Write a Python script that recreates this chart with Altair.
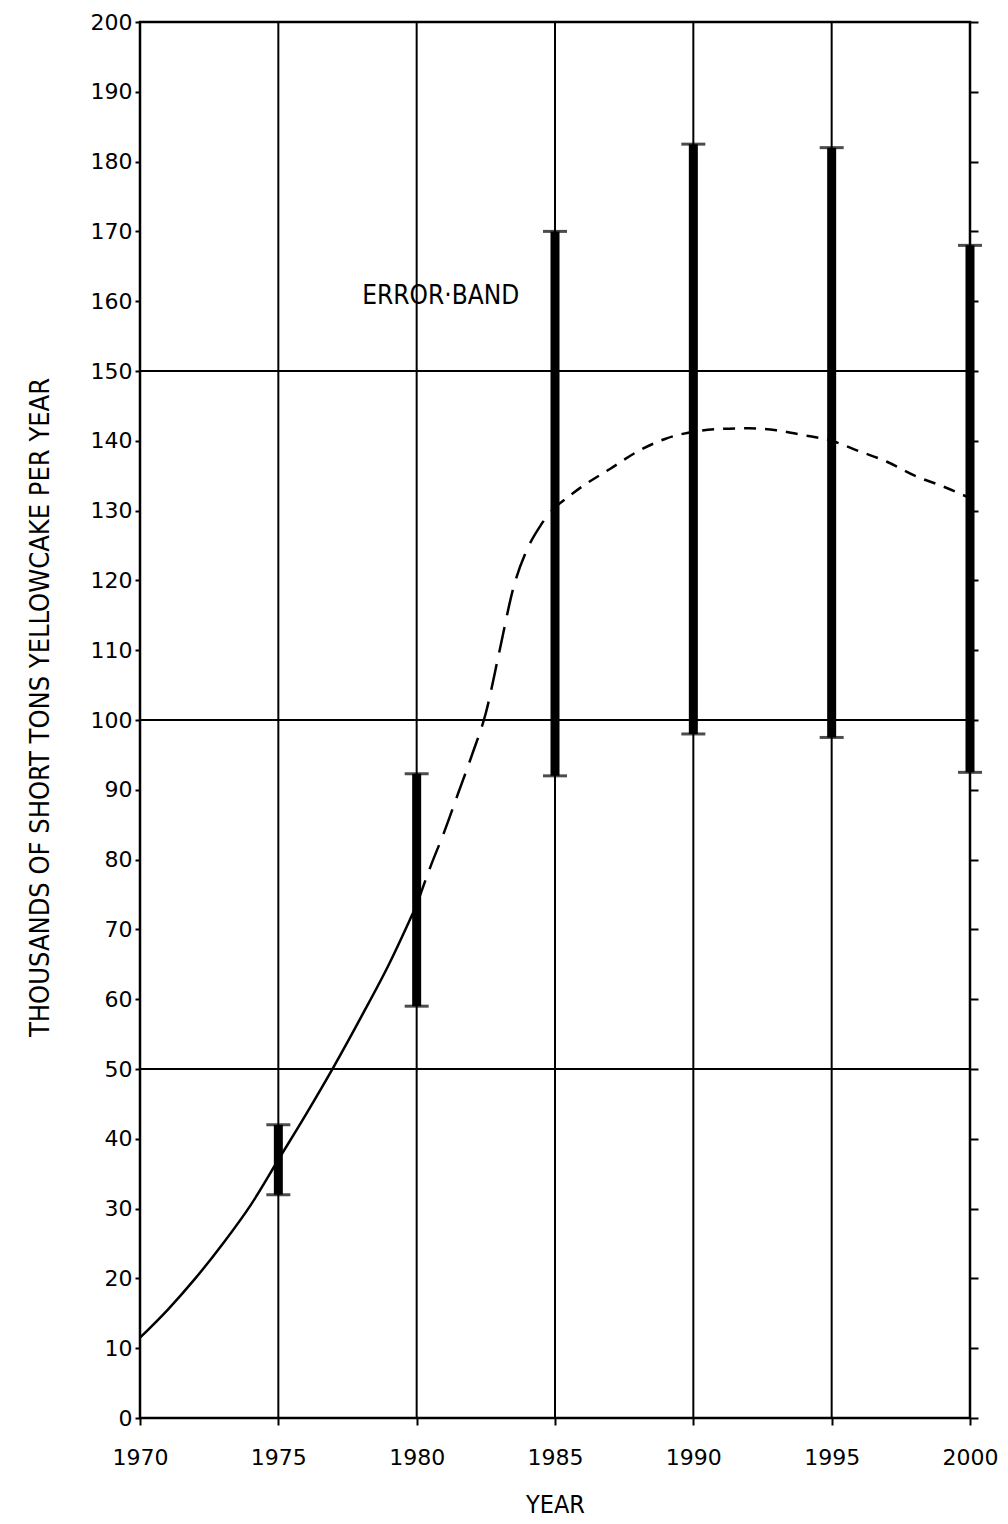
import altair as alt
import pandas as pd

# ---- data ----
err_years = [1975, 1980, 1985, 1990, 1995, 2000]
err_low = [32, 59, 92, 98, 97.5, 92.5]
err_high = [42, 92.3, 170, 182.5, 182, 168]

solid_years = [1970, 1971, 1972, 1973, 1974, 1975, 1976, 1977, 1978, 1979, 1980]
solid_vals = [11.5, 15.5, 20, 25, 30.5, 37, 43.5, 50.3, 57.5, 65, 73.5]

longdash_years = [1980, 1980.5, 1981, 1981.5, 1982, 1982.5, 1983, 1983.5, 1984, 1984.5, 1985]
longdash_vals = [73.5, 79, 84, 89.5, 95, 101, 110, 119, 124.5, 128, 130.5]

shortdash_years = [1985, 1986, 1987, 1988, 1989, 1990, 1991, 1992, 1993, 1994, 1995, 1996, 1997, 1998, 1999, 2000]
shortdash_vals = [130.5, 133.5, 136, 138.5, 140.3, 141.3, 141.7, 141.8, 141.5, 140.8, 140, 138.5, 137, 135, 133.5, 131.8]

grid_years = [1975, 1980, 1985, 1990, 1995]
grid_vals = [50, 100, 150]
x_ticks = [1970, 1975, 1980, 1985, 1990, 1995, 2000]
y_ticks = list(range(0, 201, 10))

note_text = ["ERROR·BAND"]
note_year = [1980.87]
note_val = [160.7]

# ---- tables ----
err_df = pd.DataFrame({"year": err_years, "lo": err_low, "hi": err_high})
solid_df = pd.DataFrame({"year": solid_years, "v": solid_vals})
long_df = pd.DataFrame({"year": longdash_years, "v": longdash_vals})
short_df = pd.DataFrame({"year": shortdash_years, "v": shortdash_vals})
gx_df = pd.DataFrame({"year": grid_years})
gy_df = pd.DataFrame({"v": grid_vals})
note_df = pd.DataFrame({"t": note_text, "year": note_year, "v": note_val})

TICK_FONT = "DejaVu Sans"
COND_FONT = "DejaVu Sans Condensed, Liberation Sans Narrow, DejaVu Sans, sans-serif"

xscale = alt.Scale(domain=[1970, 2000], nice=False, zero=False)
yscale = alt.Scale(domain=[0, 200], nice=False)


def X(field="year", axis=None):
    return alt.X(f"{field}:Q", scale=xscale, axis=axis)


def Y(field="v", axis=None):
    return alt.Y(f"{field}:Q", scale=yscale, axis=axis)


x_axis = alt.Axis(
    values=x_ticks, format="d", grid=False, domain=False, orient="bottom",
    tickColor="black", tickWidth=2, tickSize=7, labelFlush=False,
    labelFont=TICK_FONT, labelFontSize=22, labelColor="black", labelPadding=22,
    title="YEAR", titleFont=COND_FONT, titleFontSize=25, titleFontWeight="normal",
    titleColor="black", titlePadding=24,
)
y_axis_left = alt.Axis(
    values=y_ticks, format="d", grid=False, domain=False, orient="left",
    tickColor="black", tickWidth=2, tickSize=5, labelFlush=False,
    labelFont=TICK_FONT, labelFontSize=22, labelColor="black", labelPadding=3,
    title="THOUSANDS OF SHORT TONS YELLOWCAKE PER YEAR", titleFont=COND_FONT,
    titleFontSize=27, titleFontWeight="normal", titleColor="black", titlePadding=36,
    titleY=685,
)
y_axis_right = alt.Axis(
    values=y_ticks, grid=False, domain=False, orient="right", labels=False,
    tickColor="black", tickWidth=2, tickSize=8, title=None,
)

vgrid = alt.Chart(gx_df).mark_rule(color="black", strokeWidth=2).encode(
    x=X(axis=x_axis)
)
hgrid = alt.Chart(gy_df).mark_rule(color="black", strokeWidth=2).encode(
    y=Y(axis=y_axis_left)
)
right_ticks = alt.Chart(gy_df).mark_point(opacity=0).encode(
    y=Y(axis=y_axis_right)
)

bars = alt.Chart(err_df).mark_rule(color="black", strokeWidth=9).encode(
    x=X(), y=Y("lo"), y2="hi:Q"
)
cap_lo = alt.Chart(err_df).mark_tick(color="black", orient="horizontal", size=24, thickness=3).encode(
    x=X(), y=Y("lo")
)
cap_hi = alt.Chart(err_df).mark_tick(color="black", orient="horizontal", size=24, thickness=3).encode(
    x=X(), y=Y("hi")
)

solid = alt.Chart(solid_df).mark_line(color="black", strokeWidth=2.5, interpolate="monotone").encode(
    x=X(), y=Y()
)
longd = alt.Chart(long_df).mark_line(color="black", strokeWidth=2.5, interpolate="monotone",
                                     strokeDash=[26, 12]).encode(x=X(), y=Y())
shortd = alt.Chart(short_df).mark_line(color="black", strokeWidth=2.5, interpolate="monotone",
                                       strokeDash=[12, 9]).encode(x=X(), y=Y())

note = alt.Chart(note_df).mark_text(font=COND_FONT, fontSize=26, color="black").encode(
    x=X(), y=Y(), text="t:N"
)

chart = (
    alt.layer(vgrid, hgrid, right_ticks, bars, cap_lo, cap_hi, solid, longd, shortd, note)
    .resolve_axis(x="independent", y="independent")
    .properties(
        width=830, height=1396,
        autosize=alt.AutoSizeParams(type="none"),
        padding={"left": 132, "top": 14, "right": 30, "bottom": 100},
        background="white",
    )
    .configure_view(stroke="black", strokeWidth=2.5)
)

chart.save("out.html", embed_options={"renderer": "svg", "actions": False})
